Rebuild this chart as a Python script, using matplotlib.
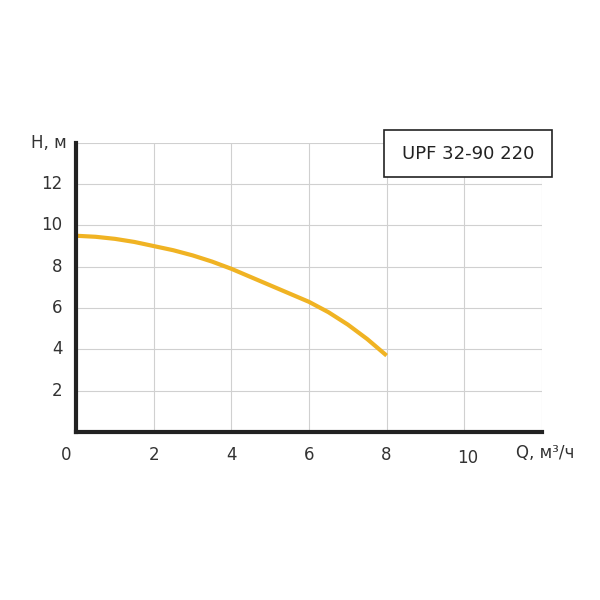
import matplotlib.pyplot as plt
from matplotlib.patches import Rectangle

q = [0, 0.5, 1, 1.5, 2, 2.5, 3, 3.5, 4, 4.5, 5, 5.5, 6, 6.5, 7, 7.5, 8]
h = [9.5, 9.45, 9.35, 9.2, 9.0, 8.8, 8.55, 8.25, 7.9, 7.5, 7.1, 6.7, 6.3, 5.8, 5.2, 4.5, 3.7]
xticks = [2, 4, 6, 8]
yticks = [2, 4, 6, 8, 10, 12]

fig = plt.figure(figsize=(6, 6), dpi=100)
ax = fig.add_axes([0.127, 0.28, 0.776, 0.482])
ax.plot(q, h, color='#F0B323', lw=3, solid_capstyle='butt')
ax.set_xlim(0, 12)
ax.set_ylim(0, 14)
ax.set_xticks([0, 2, 4, 6, 8, 10, 12])
ax.set_yticks([0, 2, 4, 6, 8, 10, 12, 14])
ax.grid(True, color='#d0d0d0', lw=0.8)
ax.set_xticklabels([])
ax.set_yticklabels([])
ax.tick_params(length=0)
for s in ['top', 'right']:
    ax.spines[s].set_visible(False)
for s in ['left', 'bottom']:
    ax.spines[s].set_linewidth(3)
    ax.spines[s].set_color('#222222')

for x in xticks:
    ax.text(x, -0.7, str(x), ha='center', va='top', fontsize=12, color='#333333')
ax.text(-0.25, -0.7, '0', ha='center', va='top', fontsize=12, color='#333333')
ax.text(10.1, -0.8, '10', ha='center', va='top', fontsize=12, color='#333333')
ax.text(12.1, -0.6, 'Q, м³/ч', ha='center', va='top', fontsize=12, color='#333333')
for y in yticks:
    ax.text(-0.35, y, str(y), ha='right', va='center', fontsize=12, color='#333333')
ax.text(-0.25, 14, 'H, м', ha='right', va='center', fontsize=12, color='#333333')

fig.patches.append(Rectangle((0.64, 0.705), 0.28, 0.078, transform=fig.transFigure,
                             fc='white', ec='#222222', lw=1.2))
fig.text(0.78, 0.744, 'UPF 32-90 220', fontsize=13, color='#222222', ha='center', va='center')

fig.savefig('out.png')
